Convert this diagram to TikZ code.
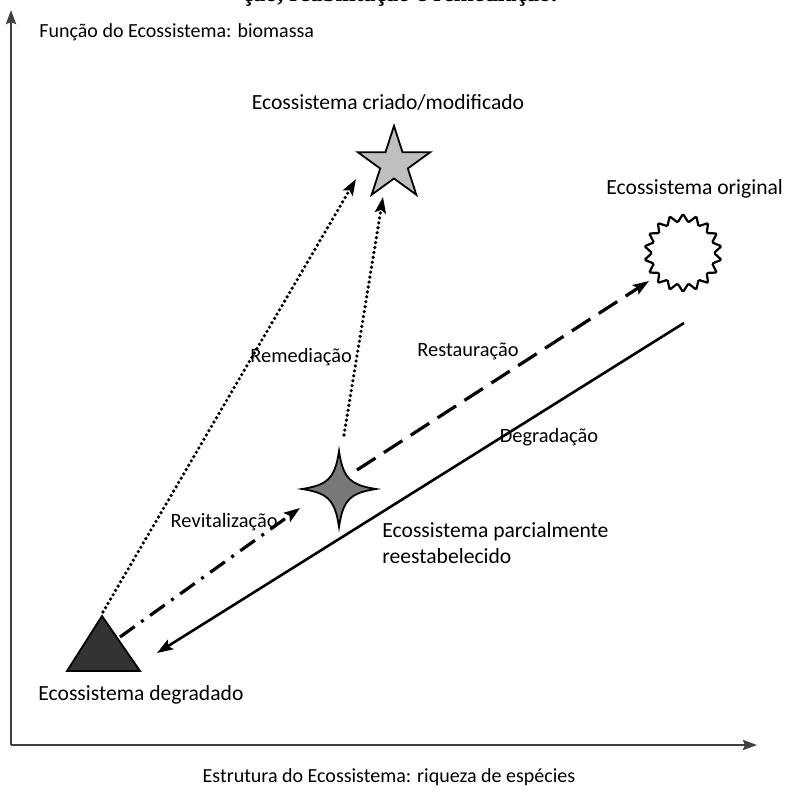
\documentclass[tikz,border=0pt]{standalone}
\usepackage{fontspec}
\setmainfont{Carlito}
\newfontfamily\captionfont{Liberation Serif}
\usetikzlibrary{arrows.meta, calc, positioning, shapes.geometric}
\definecolor{axisgrey}{rgb}{0.25, 0.25, 0.25}
\definecolor{degradedfill}{rgb}{0.2, 0.2, 0.2}
\definecolor{partialfill}{rgb}{0.47, 0.47, 0.47}
\definecolor{createdfill}{rgb}{0.75, 0.75, 0.75}
\tikzset{headed/.style={-{Stealth[length=8pt, width=5.5pt, inset=1.5pt]}}}
\tikzset{axisline/.style={draw=axisgrey, line width=1.3pt, -{Stealth[length=7pt, width=5pt, inset=1pt]}}}
\tikzset{degline/.style={line width=1.3pt, headed}}
\tikzset{restline/.style={line width=1.6pt, dash pattern=on 11pt off 5pt, headed}}
\tikzset{remline/.style={line width=1.8pt, line cap=round, dash pattern=on 0pt off 2.5pt, headed}}
\tikzset{revline/.style={line width=1.6pt, dash pattern=on 9pt off 4pt on 1.5pt off 4pt, headed}}
\tikzset{axislabel/.style={inner sep=0pt, font=\fontsize{10}{12}\selectfont}}
\tikzset{biglabel/.style={inner sep=0pt, font=\fontsize{10.8}{13}\selectfont}}
\tikzset{arrowlabel/.style={inner sep=0pt, font=\fontsize{10.2}{12}\selectfont}}
\tikzset{shapeline/.style={draw=black, line width=0.9pt}}

\begin{document}
\begin{tikzpicture}[x=0.5pt, y=-0.5pt]
        \useasboundingbox (0, 0) rectangle (789, 791);
        \begin{scope}
            \clip (0, 0) rectangle (789, 791);
            \node[inner sep=0pt, anchor=base, font=\captionfont\bfseries\fontsize{12}{14}\selectfont] (Ncap) at (400, 2) {ção, reabilitação e remediação.};
        \end{scope}

        % axes
        \coordinate (O) at (11, 745);
        \coordinate (Ytop) at (11, 10);
        \coordinate (Xend) at (757, 745);
        \draw [axisline] (O) -- (Ytop);
        \draw [axisline] (O) -- (Xend);
        \node[axislabel, anchor=base west] (Nfunc) at (39, 38) {Função do Ecossistema: biomassa};
        \node[axislabel, anchor=base] (Nstruct) at (389, 782) {Estrutura do Ecossistema: riqueza de espécies};

        % ecosystem states
        \fill[degradedfill, shapeline] (67, 671) -- (102, 616) -- (140, 671) -- cycle;
        \node[star, star points=5, star point ratio=2.618, minimum size=38pt, inner sep=0pt,
              fill=createdfill, shapeline] (Ncreated) at (394, 164) {};
        \draw[shapeline, fill=partialfill]
            (339, 451) .. controls (343, 478) and (350, 485) .. (376, 489)
            .. controls (350, 493) and (343, 500) .. (339, 527)
            .. controls (335, 500) and (328, 493) .. (302, 489)
            .. controls (328, 485) and (335, 478) .. cycle;
        \draw[shapeline, line width=1.1pt, fill=white, rounded corners=0.6pt]
            (683, 253) ++(90:39)
            \foreach \k in {1, ..., 35} {
                -- ($(683, 253) + ({90 + \k*10}:{39 - 8*mod(\k, 2)})$)
            } -- cycle;

        \node[biglabel, anchor=base west] (Ndegraded) at (38, 700) {Ecossistema degradado};
        \node[biglabel, anchor=base] (Ncreatedtxt) at (388, 110) {Ecossistema criado/modificado};
        \node[biglabel, anchor=base west] (Noriginal) at (606, 195) {Ecossistema original};
        \node[biglabel, anchor=base west] (NpartialA) at (382, 537) {Ecossistema parcialmente};
        \node[biglabel, anchor=base west] (NpartialB) at (382, 563) {reestabelecido};

        % arrow ends
        \coordinate (Tapex) at (103, 612);
        \coordinate (Tright) at (120, 637);
        \coordinate (Tin) at (157, 653);
        \coordinate (Ptop) at (344, 435);
        \coordinate (Pleft) at (300, 508);
        \coordinate (Pright) at (357, 470);
        \coordinate (Cleft) at (356, 179);
        \coordinate (Cbottom) at (383, 197);
        \coordinate (Oin) at (649, 281);
        \coordinate (Ostart) at (684, 323);

        \draw [degline] (Ostart) -- (Tin);
        \draw [restline] (Pright) -- (Oin);
        \draw [remline] (Ptop) -- (Cbottom);
        \draw [remline] (Tapex) -- (Cleft);
        \draw [revline] (Tright) -- (Pleft);

        \node[arrowlabel, anchor=base] (Nrest) at (468, 356) {Restauração};
        \node[arrowlabel, anchor=base west] (Nrem) at (250, 362) {Remediação};
        \node[arrowlabel, anchor=base] (Ndeg) at (549, 442) {Degradação};
        \node[arrowlabel, anchor=base east] (Nrev) at (278, 527) {Revitalização};
    \end{tikzpicture}
\end{document}
